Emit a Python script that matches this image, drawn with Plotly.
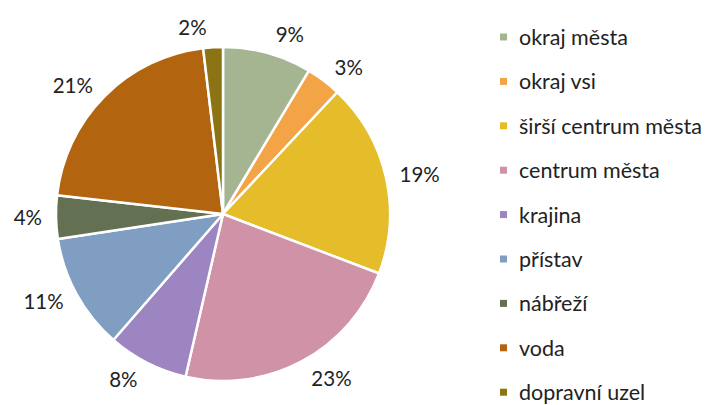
import plotly.graph_objects as go

labels = ["okraj města", "okraj vsi", "širší centrum města", "centrum města", "krajina",
          "přístav", "nábřeží", "voda", "dopravní uzel"]
values = [8.6, 3.4, 18.8, 22.8, 7.8, 11.2, 4.2, 21.3, 1.9]
colors = ["#A5B592", "#F3A447", "#E5BC29", "#D092A7", "#9C85C0",
          "#809EC2", "#637052", "#B3640F", "#8C7313"]

OFF = 8  # page body margin
W, H = 710 - OFF, 405 - OFF
cx, cy, r = 223 - OFF, 214 - OFF, 167
lr = r + 8  # radius of the label ring
FONT = "Lato"


def dom(rad):
    return dict(x=[(cx - rad) / W, (cx + rad) / W], y=[1 - (cy + rad) / H, 1 - (cy - rad) / H])


fig = go.Figure()
# white (invisible) ring underneath, carrying the outside percentage labels a bit further out
fig.add_trace(go.Pie(
    labels=labels, values=values, sort=False, direction="clockwise", rotation=0,
    marker=dict(colors=["white"] * len(values), line=dict(width=0, color="white")),
    textinfo="percent", texttemplate="%{percent:.0%}", textposition="outside",
    outsidetextfont=dict(family=FONT, size=20.5, color="#222222"),
    domain=dom(lr), showlegend=False, hoverinfo="skip",
))
fig.add_trace(go.Pie(
    labels=labels, values=values, sort=False, direction="clockwise", rotation=0,
    marker=dict(colors=colors, line=dict(color="white", width=2.5)),
    textinfo="none", domain=dom(r), showlegend=False,
))

# custom legend
y0, step = 37 - OFF, 44.4
mx0, mx1, tx = 500 - OFF, 507 - OFF, 517 - OFF
shapes, anns = [], []
for i, (lab, col) in enumerate(zip(labels, colors)):
    y = y0 + i * step
    shapes.append(dict(type="rect", xref="paper", yref="paper",
                       x0=mx0 / W, x1=mx1 / W, y0=1 - (y + 3.5) / H, y1=1 - (y - 3.5) / H,
                       fillcolor=col, line=dict(width=0)))
    anns.append(dict(x=tx / W, y=1 - y / H, xref="paper", yref="paper", text=lab,
                     showarrow=False, xanchor="left", yanchor="middle",
                     font=dict(family=FONT, size=21.5, color="#222222")))

fig.update_layout(width=W, height=H, margin=dict(l=0, r=0, t=0, b=0),
                  paper_bgcolor="white", plot_bgcolor="white",
                  shapes=shapes, annotations=anns)
fig.write_html("out.html")
